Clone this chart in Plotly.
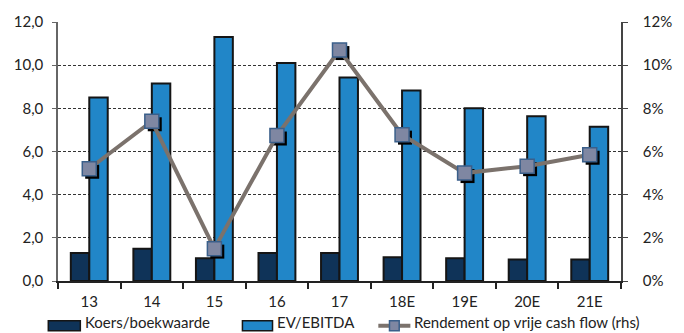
import plotly.graph_objects as go

categories = ["13", "14", "15", "16", "17", "18E", "19E", "20E", "21E"]
koers_boek = [1.3, 1.5, 1.05, 1.3, 1.3, 1.1, 1.05, 1.0, 1.0]
ev_ebitda = [8.5, 9.15, 11.3, 10.1, 9.43, 8.83, 8.0, 7.63, 7.15]
rendement = [5.2, 7.4, 1.5, 6.74, 10.7, 6.78, 5.0, 5.32, 5.85]
left_ticks = [0, 2, 4, 6, 8, 10, 12]
right_ticks = [0, 2, 4, 6, 8, 10, 12]
right_labels = ["0%", "2%", "4%", "6%", "8%", "10%", "12%"]

FONT = "Lato"
DARK = "#0f3358"
LIGHT = "#2186c8"
LINE = "#7b726c"
MARK = "#7f87a2"
MARK_EDGE = "#3a5f8a"

W, H = 684, 333
L, R, T, B = 58, 46, 21, 52
PW, PH = W - L - R, H - T - B

fig = go.Figure()
fig.add_trace(go.Bar(x=categories, y=koers_boek, name="Koers/boekwaarde",
                     marker=dict(color=DARK, line=dict(color="#151515", width=2)),
                     showlegend=False))
fig.add_trace(go.Bar(x=categories, y=ev_ebitda, name="EV/EBITDA",
                     marker=dict(color=LIGHT, line=dict(color="#151515", width=2)),
                     showlegend=False))
# shadow of markers (offset axes x2/y2)
fig.add_trace(go.Scatter(x=categories, y=rendement, mode="markers", xaxis="x2", yaxis="y2",
                         marker=dict(symbol="square", size=14, color="#000000",
                                     line=dict(width=0)),
                         showlegend=False, hoverinfo="skip"))
fig.add_trace(go.Scatter(x=categories, y=rendement, name="Rendement op vrije cash flow (rhs)",
                         mode="lines+markers", xaxis="x3", yaxis="y3",
                         line=dict(color=LINE, width=4),
                         marker=dict(symbol="square", size=14, color=MARK,
                                     line=dict(color=MARK_EDGE, width=1.5)),
                         showlegend=False))

dx = 3 * 9 / PW
dy = 3 * 12 / PH

fig.update_layout(
    width=W, height=H,
    margin=dict(l=L, r=R, t=T, b=B),
    paper_bgcolor="white", plot_bgcolor="white",
    separators=",.",
    font=dict(family=FONT, size=15, color="#222222"),
    barmode="group", bargap=0.41, bargroupgap=0,
    xaxis=dict(type="category", range=[-0.5, 8.5], showgrid=False,
               ticks="outside", tickson="boundaries", ticklen=6, tickwidth=1.5,
               tickcolor="#222222", showline=True, linecolor="#222222", linewidth=2,
               ticklabelstandoff=6, tickfont=dict(size=15)),
    yaxis=dict(range=[0, 12], tickvals=left_ticks, tickformat=".1f",
               showgrid=True, gridcolor="#333333", griddash="3px,2px", gridwidth=1,
               showline=True, linecolor="#666666", linewidth=1.5,
               ticks="outside", ticklen=4, tickcolor="#666666", zeroline=False,
               ticklabelstandoff=6, tickfont=dict(size=15)),
    xaxis2=dict(type="category", range=[-0.5 - dx, 8.5 - dx], overlaying="x",
                visible=False),
    yaxis2=dict(range=[dy, 12 + dy], overlaying="y", visible=False),
    xaxis3=dict(type="category", range=[-0.5, 8.5], overlaying="x", visible=False),
    yaxis3=dict(range=[0, 12], overlaying="y", side="right", tickvals=right_ticks,
                ticktext=right_labels, showgrid=False, showline=True,
                linecolor="#444444", linewidth=1.5, ticks="outside", ticklen=5,
                tickcolor="#444444", zeroline=False, ticklabelstandoff=12,
                tickfont=dict(size=15)),
)

# custom legend at bottom
def px2paper(x, y):
    return (x - L) / PW, (H - B - y) / PH

items = [
    (48, 81, "box", DARK, "Koers/boekwaarde", 84),
    (248, 279, "box", LIGHT, "EV/EBITDA", 282),
    (388, 421, "line", None, "Rendement op vrije cash flow (rhs)", 423),
]
ytop, ybot = 321, 331
for x0, x1, kind, col, text, tx in items:
    if kind == "box":
        a0 = px2paper(x0, ytop)
        a1 = px2paper(x1, ybot)
        fig.add_shape(type="rect", xref="paper", yref="paper",
                      x0=a0[0], x1=a1[0], y0=a1[1], y1=a0[1],
                      fillcolor=col, line=dict(color="#151515", width=1.5))
    else:
        ym = (ytop + ybot) / 2
        a0 = px2paper(x0, ym)
        a1 = px2paper(x1, ym)
        fig.add_shape(type="line", xref="paper", yref="paper",
                      x0=a0[0], x1=a1[0], y0=a0[1], y1=a0[1],
                      line=dict(color=LINE, width=4))
        c0 = px2paper((x0 + x1) / 2 - 5, ym - 5)
        c1 = px2paper((x0 + x1) / 2 + 5, ym + 5)
        fig.add_shape(type="rect", xref="paper", yref="paper",
                      x0=c0[0], x1=c1[0], y0=c1[1], y1=c0[1],
                      fillcolor=MARK, line=dict(color=MARK_EDGE, width=1.5))
    p = px2paper(tx, 333)
    fig.add_annotation(text=text, xref="paper", yref="paper", x=p[0], y=p[1],
                       xanchor="left", yanchor="bottom", showarrow=False,
                       font=dict(family=FONT, size=15, color="#222222"))

fig.write_html("out.html")
